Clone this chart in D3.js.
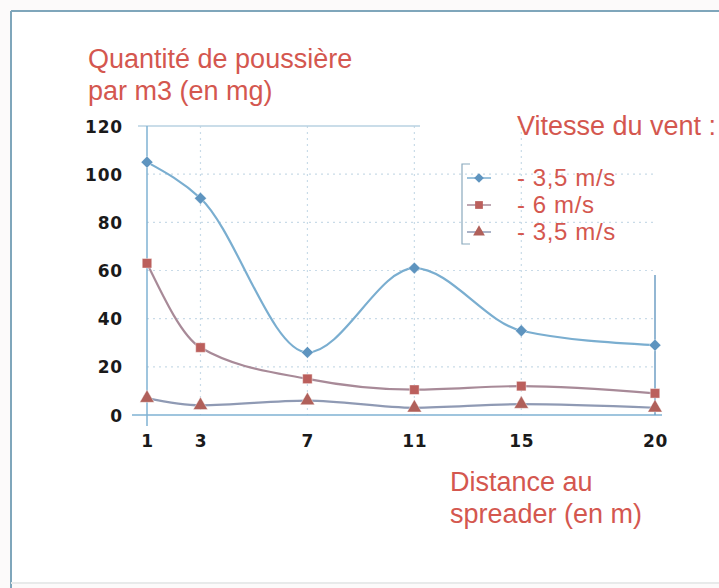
<!DOCTYPE html>
<html><head><meta charset="utf-8">
<script src="https://cdn.jsdelivr.net/npm/d3@7"></script>
<style>html,body{margin:0;padding:0;background:#fff;}svg{display:block;}</style>
</head><body>
<script>
const distances = [1, 3, 7, 11, 15, 20];
const xTicks = [1, 3, 7, 11, 15, 20];
const yTicks = [0, 20, 40, 60, 80, 100, 120];
const seriesNames = ["- 3,5 m/s", "- 6 m/s", "- 3,5 m/s"];
const serieA = [105, 90, 26, 61, 35, 29];
const serieB = [63, 28, 15, 10.5, 12, 9];
const serieC = [7, 4, 6, 3, 4.5, 3];
const lineColors = ["#7aaed0", "#a88a98", "#8f9ab4"];
const markColors = ["#5e94bf", "#bb5f5c", "#b0605a"];
const markShapes = [d3.symbolDiamond2, d3.symbolSquare, d3.symbolTriangle];

const W = 719, H = 588;
const svg = d3.select("body").append("svg").attr("width", W).attr("height", H);

// frame
svg.append("rect").attr("x", 0).attr("y", 0).attr("width", W).attr("height", H).attr("fill", "#fcfafa");
svg.append("rect").attr("x", 11).attr("y", 11).attr("width", W).attr("height", 572).attr("fill", "#fff");
svg.append("line").attr("x1", 11).attr("x2", W).attr("y1", 11).attr("y2", 11)
  .attr("stroke", "#7fa6bb").attr("stroke-width", 2);
svg.append("line").attr("x1", 11).attr("x2", 11).attr("y1", 11).attr("y2", H)
  .attr("stroke", "#7fa6bb").attr("stroke-width", 2);
svg.append("line").attr("x1", 11).attr("x2", W).attr("y1", 583).attr("y2", 583)
  .attr("stroke", "#e8eaea").attr("stroke-width", 2);

const x = d3.scaleLinear().domain([1, 20]).range([147, 655]);
const y = d3.scaleLinear().domain([0, 120]).range([415, 126]);

// gridlines
const g = svg.append("g");
g.selectAll(".hg").data([20, 40, 60, 80, 100]).join("line")
  .attr("x1", 147).attr("x2", 655).attr("y1", d => y(d)).attr("y2", d => y(d))
  .attr("stroke", "#c9dbe8").attr("stroke-dasharray", "2,4").attr("stroke-width", 1.2);
g.selectAll(".vg").data([3, 7, 11, 15]).join("line")
  .attr("x1", d => x(d)).attr("x2", d => x(d)).attr("y1", y(120)).attr("y2", y(0))
  .attr("stroke", "#c9dbe8").attr("stroke-dasharray", "2,4").attr("stroke-width", 1.2);
g.append("line").attr("x1", 138).attr("x2", 420).attr("y1", y(120)).attr("y2", y(120))
  .attr("stroke", "#b8d2e2").attr("stroke-width", 1.5);

// axes via d3
const yAxis = d3.axisLeft(y).tickValues(yTicks).tickSize(0).tickPadding(0);
const ya = svg.append("g").attr("transform", "translate(123,0)").call(yAxis);
ya.select(".domain").remove();
ya.selectAll("text").attr("font-family", "DejaVu Sans, sans-serif").attr("font-weight", "bold")
  .attr("font-size", 17).attr("letter-spacing", 0.8).attr("fill", "#1a1a1a").attr("dy", "0.36em");

const xAxis = d3.axisBottom(x).tickValues(xTicks).tickSize(0).tickPadding(0);
const xa = svg.append("g").attr("transform", "translate(0,435)").call(xAxis);
xa.select(".domain").remove();
xa.selectAll("text").attr("font-family", "DejaVu Sans, sans-serif").attr("font-weight", "bold")
  .attr("font-size", 17).attr("letter-spacing", 0.8).attr("fill", "#1a1a1a");

// axis lines
svg.append("line").attr("x1", x(1)).attr("x2", x(1)).attr("y1", y(120)).attr("y2", 426)
  .attr("stroke", "#7fb2d3").attr("stroke-width", 1.5);
svg.append("line").attr("x1", 132).attr("x2", 662).attr("y1", y(0)).attr("y2", y(0))
  .attr("stroke", "#7fb2d3").attr("stroke-width", 1.5);
svg.append("line").attr("x1", x(20)).attr("x2", x(20)).attr("y1", 275).attr("y2", y(0))
  .attr("stroke", "#6f9fc4").attr("stroke-width", 1.5);

// series
const series = [serieA, serieB, serieC];
const line = d3.line().x((d, i) => x(distances[i])).y(d => y(d)).curve(d3.curveMonotoneX);
series.forEach((s, k) => {
  svg.append("path").attr("d", line(s)).attr("fill", "none")
    .attr("stroke", lineColors[k]).attr("stroke-width", 2.2);
});
series.forEach((s, k) => {
  svg.selectAll(".m" + k).data(s).join("path")
    .attr("transform", (d, i) => `translate(${x(distances[i])},${y(d)})`)
    .attr("d", d3.symbol().type(markShapes[k]).size(90))
    .attr("fill", markColors[k]).attr("stroke", "#fff").attr("stroke-opacity", 0.4);
});

// titles
const tf = "Liberation Sans, Arial, sans-serif", tc = "#d4574f", fs = 27;
svg.append("text").attr("x", 88).attr("y", 68).text("Quantité de poussière")
  .attr("font-family", tf).attr("font-size", fs).attr("fill", tc);
svg.append("text").attr("x", 88).attr("y", 100).text("par m3 (en mg)")
  .attr("font-family", tf).attr("font-size", fs).attr("fill", tc);
svg.append("text").attr("x", 450).attr("y", 491).text("Distance au")
  .attr("font-family", tf).attr("font-size", fs).attr("fill", tc);
svg.append("text").attr("x", 450).attr("y", 523).text("spreader (en m)")
  .attr("font-family", tf).attr("font-size", fs).attr("fill", tc);
svg.append("text").attr("x", 517).attr("y", 135).text("Vitesse du vent :")
  .attr("font-family", tf).attr("font-size", fs).attr("fill", tc);

// legend
const lg = svg.append("g");
lg.append("path").attr("d", "M470,164 L462,164 L462,244 L470,244").attr("fill", "none")
  .attr("stroke", "#8aa9bd").attr("stroke-width", 1.2);
seriesNames.forEach((n, k) => {
  const ly = 178 + k * 27;
  lg.append("line").attr("x1", 467).attr("x2", 491).attr("y1", ly).attr("y2", ly)
    .attr("stroke", lineColors[k]).attr("stroke-width", 1.5);
  lg.append("path").attr("transform", `translate(479,${ly})`)
    .attr("d", d3.symbol().type(markShapes[k]).size(60)).attr("fill", markColors[k]);
  lg.append("text").attr("x", 517).attr("y", ly + 8).text(n)
    .attr("font-family", tf).attr("font-size", 24).attr("letter-spacing", 0.6).attr("fill", tc);
});
</script>
</body></html>
